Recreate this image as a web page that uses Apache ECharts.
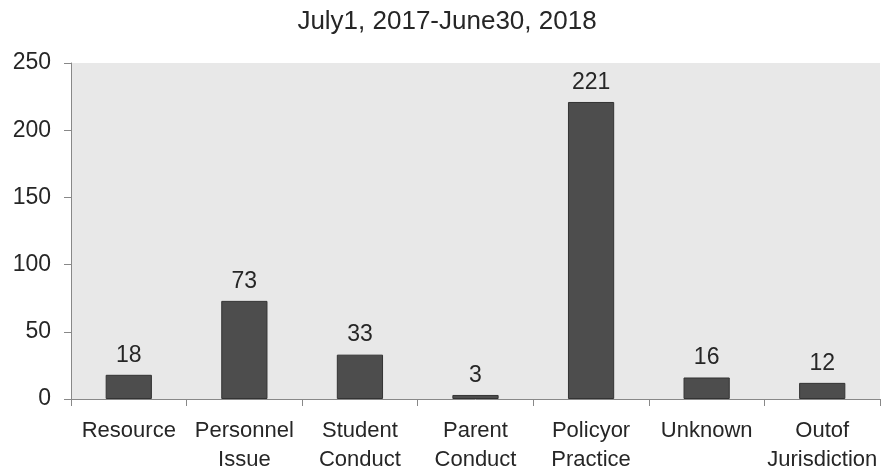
<!DOCTYPE html>
<html><head><meta charset="utf-8">
<script src="https://cdn.jsdelivr.net/npm/echarts@6/dist/echarts.min.js"></script>
<style>html,body{margin:0;padding:0;background:#fff}#c{width:894px;height:474px}</style>
</head><body><div id="c"></div>
<script>
const titleText = "July1, 2017‑June30, 2018";
const categories = ["Resource", "Personnel\nIssue", "Student\nConduct", "Parent\nConduct", "Policyor\nPractice", "Unknown", "Outof\nJurisdiction"];
const values = [18, 73, 33, 3, 221, 16, 12];
const yTicks = [0, 50, 100, 150, 200, 250];

const chart = echarts.init(document.getElementById('c'));
chart.setOption({
  animation: false,
  backgroundColor: '#ffffff',
  title: {
    text: titleText, left: 'center', top: 4,
    textStyle: { fontFamily: 'Liberation Sans', fontSize: 26, fontWeight: 'normal', color: '#262626' }
  },
  grid: { left: 71, right: 14, top: 63, bottom: 74, show: true, backgroundColor: '#e8e8e8', borderWidth: 0 },
  xAxis: {
    type: 'category', data: categories,
    axisLine: { lineStyle: { color: '#888', width: 1 } },
    axisTick: { show: true, length: 7, lineStyle: { color: '#888' }, alignWithLabel: false },
    axisLabel: { interval: 0, margin: 17, fontFamily: 'Liberation Sans', fontSize: 22, color: '#262626', lineHeight: 29 }
  },
  yAxis: {
    type: 'value', min: yTicks[0], max: yTicks[yTicks.length - 1], interval: 50,
    axisLine: { show: true, lineStyle: { color: '#888', width: 1 } },
    axisTick: { show: true, length: 7, lineStyle: { color: '#888' } },
    splitLine: { show: false },
    axisLabel: { margin: 20, fontFamily: 'Liberation Sans', fontSize: 23, color: '#262626' }
  },
  series: [{
    type: 'bar', data: values, barWidth: '40%',
    itemStyle: { color: '#4d4d4d', borderColor: '#333', borderWidth: 1 },
    label: { show: true, position: 'top', distance: 8, fontFamily: 'Liberation Sans', fontSize: 23, color: '#262626' }
  }]
});
</script></body></html>
